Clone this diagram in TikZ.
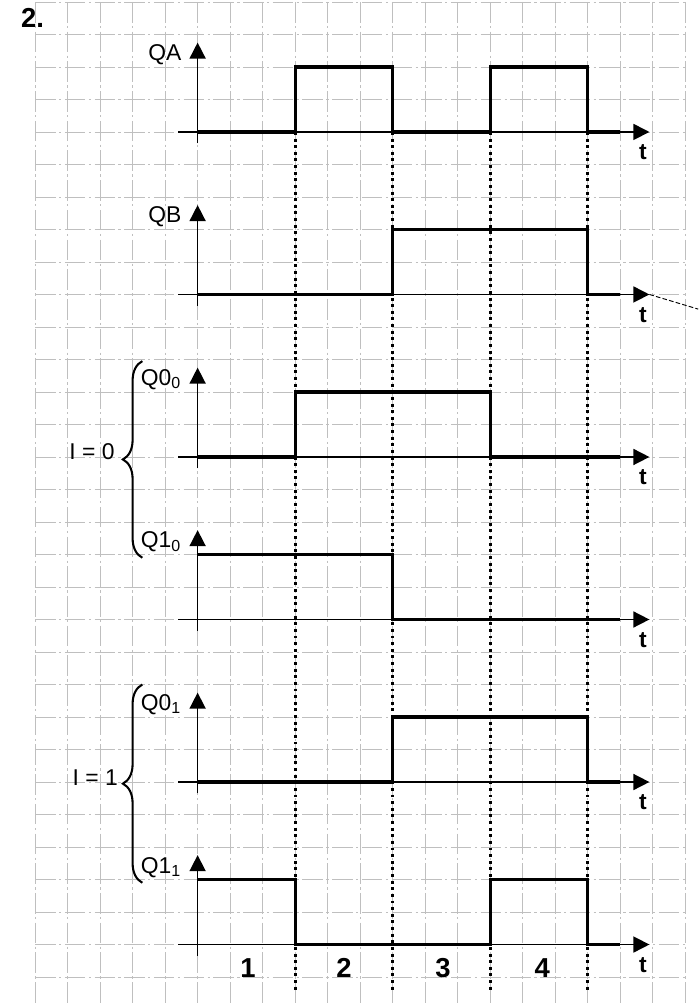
\documentclass[tikz,border=0pt]{standalone}
\usepackage{fontspec}
\setmainfont{Liberation Sans}
\usetikzlibrary{arrows.meta,decorations.pathreplacing}

\begin{document}
\begin{tikzpicture}[x=5mm,y=5mm,
  paper/.style={gray!50,line width=0.35pt,dash pattern=on 9pt off 1.5pt on 1pt off 1.5pt},
  axisline/.style={line width=0.7pt,-{Triangle[length=7pt,width=7pt]}},
  wave/.style={line width=1.4pt},
  slot/.style={line width=1.4pt,dash pattern=on 1.3pt off 1.6pt},
  curly/.style={decorate,decoration={brace,amplitude=3mm},line width=0.9pt}]
  \useasboundingbox (-1.08,0.06) rectangle (20.4,-30.83);
  \foreach \i in {0,...,20} \draw[paper] (\i,0) -- (\i,-30.83);
  \foreach \j in {0,...,30} \draw[paper] (0,-\j) -- (20,-\j);
  \foreach \x in {8,11,14,17} \draw[slot] (\x,-4) -- (\x,-30.4);
  \foreach \b in {4,9,14,19,24,29}{
    \draw[axisline] (5,-\b-0.35) -- (5,-\b+2.75);
    \draw[axisline] (4.4,-\b) -- (18.9,-\b);
    \node[font=\bfseries,anchor=base] (t\b) at (18.7,-\b-0.86) {t};
  }
  \draw[line width=0.4pt,dash pattern=on 2pt off 1pt] (18.9,-9) -- (20.4,-9.45);
  \draw[wave] (5,-4) -| (8,-2) -| (11,-4) -| (14,-2) -| (17,-4) -- (18,-4);
  \draw[wave] (5,-9) -| (11,-7) -| (17,-9) -- (18,-9);
  \draw[wave] (5,-14) -| (8,-12) -| (14,-14) -- (18,-14);
  \draw[wave] (5,-17) -| (11,-19) -- (18,-19);
  \draw[wave] (5,-24) -| (11,-22) -| (17,-24) -- (18,-24);
  \draw[wave] (5,-27) -| (8,-29) -| (14,-27) -| (17,-29) -- (18,-29);
  \node[font=\large\bfseries,anchor=base west] (num) at (-0.68,-0.8) {2.};
  \node[anchor=base east] (qa) at (4.75,-1.8) {QA};
  \node[anchor=base east] (qb) at (4.75,-6.8) {QB};
  \node[anchor=base east] (q00) at (4.75,-11.8) {Q0\textsubscript{0}};
  \node[anchor=base east] (q10) at (4.75,-16.8) {Q1\textsubscript{0}};
  \node[anchor=base east] (q01) at (4.75,-21.8) {Q0\textsubscript{1}};
  \node[anchor=base east] (q11) at (4.75,-26.8) {Q1\textsubscript{1}};
  \draw[curly] (3.3,-17.1) -- (3.3,-11.05);
  \draw[curly] (3.3,-27.1) -- (3.3,-21);
  \node (i0) at (1.75,-13.85) {I = 0};
  \node (i1) at (1.85,-23.85) {I = 1};
  \foreach \n/\x in {1/6.55,2/9.5,3/12.55,4/15.6}
    \node[font=\large\bfseries,anchor=base] (n\n) at (\x,-30) {\n};
\end{tikzpicture}
\end{document}
